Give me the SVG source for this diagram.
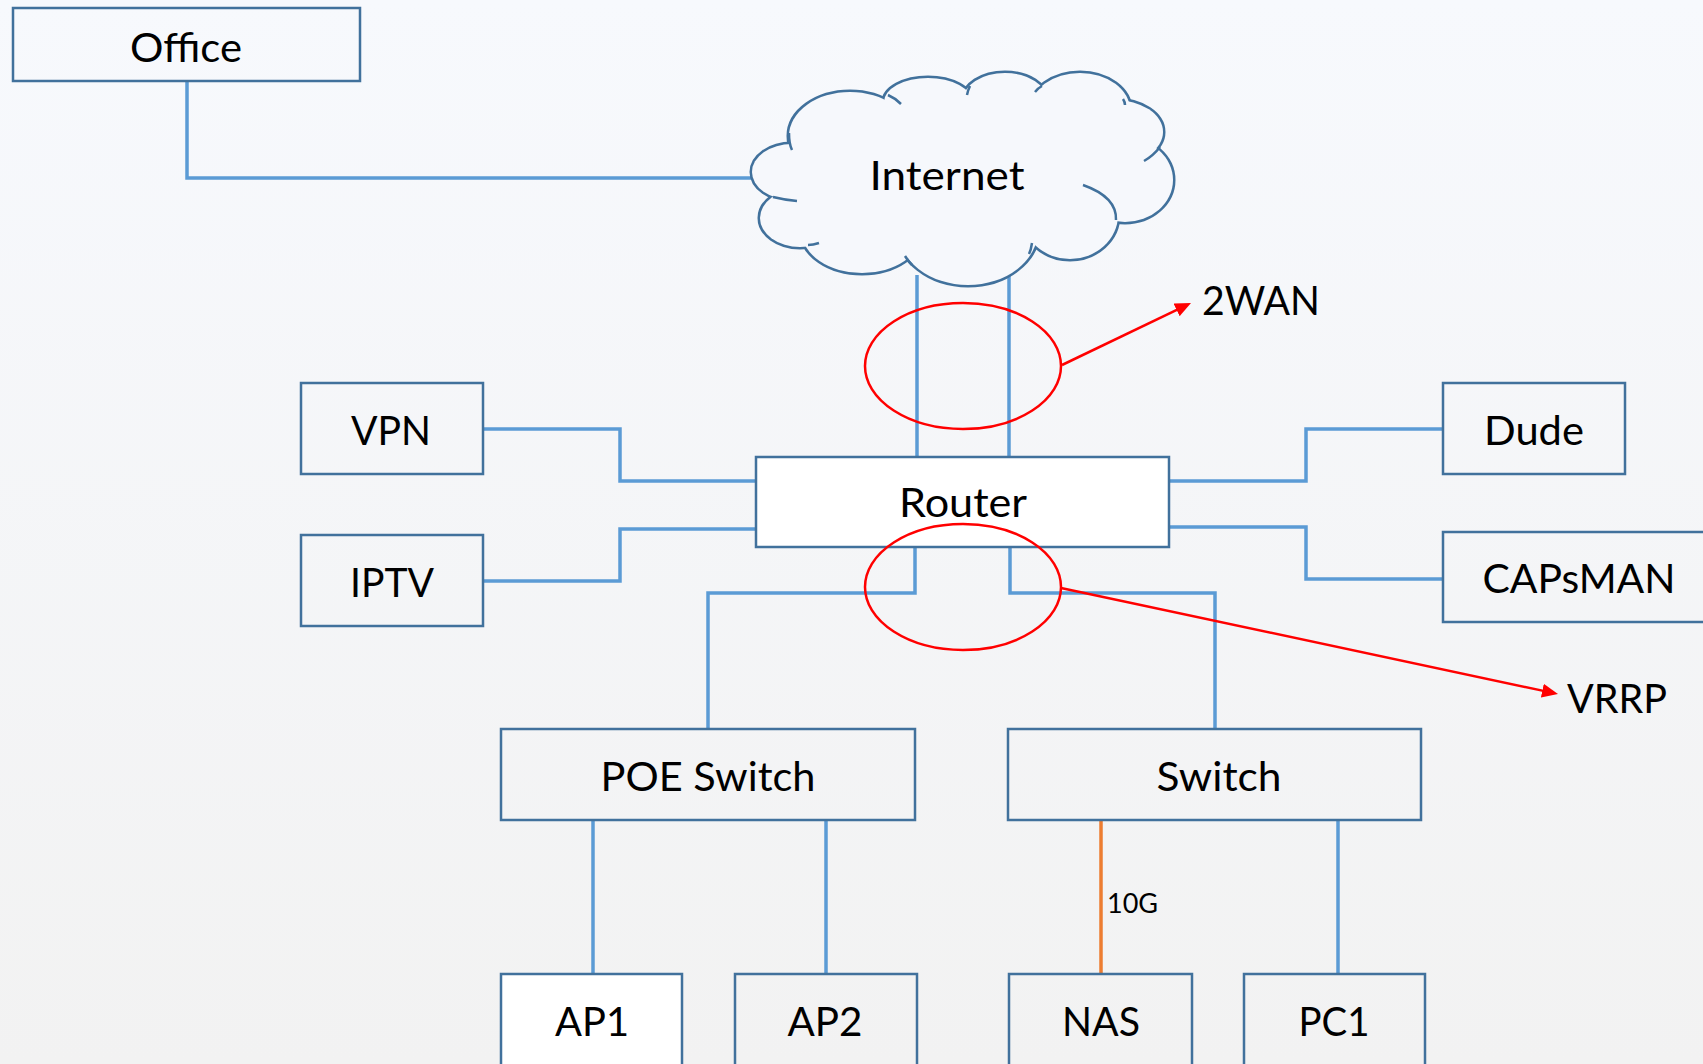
<svg xmlns="http://www.w3.org/2000/svg" width="1703" height="1064" viewBox="0 0 1703 1064">
<style>
.box{fill:none;stroke:#41719C;stroke-width:2.5}
.wbox{fill:#FFFFFF;stroke:#41719C;stroke-width:2.5}
.lbl{font-family:Lato,"Liberation Sans",sans-serif;font-size:41px;fill:#000;text-anchor:middle}
.lbls{font-family:Lato,"Liberation Sans",sans-serif;font-size:41px;fill:#000}
.conn{fill:none;stroke:#5B9BD5;stroke-width:3.5}
.red{fill:none;stroke:#FF0000;stroke-width:2.5}
.cs{fill:none;stroke:#41719C;stroke-width:5}
.cf{fill:#F6F8FC;stroke:none}
.curl{fill:none;stroke:#41719C;stroke-width:2.5}
</style>
<defs>
<linearGradient id="bg" x1="0" y1="0" x2="0" y2="1">
<stop offset="0" stop-color="#F7F9FD"/>
<stop offset="1" stop-color="#F2F2F2"/>
</linearGradient>
<marker id="ah" markerUnits="userSpaceOnUse" markerWidth="16" markerHeight="14" viewBox="0 0 16 14" refX="6" refY="7" orient="auto">
<path d="M0,0 L16,7 L0,14 z" fill="#FF0000"/>
</marker>
</defs>
<rect x="0" y="0" width="1703" height="1064" fill="url(#bg)"/>

<g id="connectors">
<polyline class="conn" points="187,81 187,178 752,178"/>
<line class="conn" x1="917" y1="275" x2="917" y2="457"/>
<line class="conn" x1="1009" y1="275" x2="1009" y2="457"/>
<polyline class="conn" points="483,429 620,429 620,481 756,481"/>
<polyline class="conn" points="483,581 620,581 620,529 756,529"/>
<polyline class="conn" points="1169,481 1306,481 1306,429 1443,429"/>
<polyline class="conn" points="1169,527 1306,527 1306,579 1443,579"/>
<polyline class="conn" points="915,547 915,593 708,593 708,729"/>
<polyline class="conn" points="1010,547 1010,593 1215,593 1215,729"/>
<line class="conn" x1="593" y1="820" x2="593" y2="974"/>
<line class="conn" x1="826" y1="820" x2="826" y2="974"/>
<line x1="1101" y1="820" x2="1101" y2="974" stroke="#ED7D31" stroke-width="3.5"/>
<line class="conn" x1="1338" y1="820" x2="1338" y2="974"/>
</g>

<g id="internet">
<g>
<ellipse class="cs" cx="850" cy="136" rx="61" ry="44"/>
<ellipse class="cs" cx="928" cy="102" rx="44" ry="24"/>
<ellipse class="cs" cx="1005" cy="100" rx="42" ry="27"/>
<ellipse class="cs" cx="1080" cy="110" rx="50" ry="37"/>
<ellipse class="cs" cx="1115" cy="132" rx="48" ry="32"/>
<ellipse class="cs" cx="1125" cy="180" rx="48" ry="42"/>
<ellipse class="cs" cx="1070" cy="215" rx="48" ry="44"/>
<ellipse class="cs" cx="968" cy="230" rx="70" ry="55"/>
<ellipse class="cs" cx="862" cy="232" rx="60" ry="41"/>
<ellipse class="cs" cx="800" cy="218" rx="40" ry="29"/>
<ellipse class="cs" cx="792" cy="172" rx="40" ry="28"/>
</g>
<g>
<ellipse class="cf" cx="850" cy="136" rx="61" ry="44"/>
<ellipse class="cf" cx="928" cy="102" rx="44" ry="24"/>
<ellipse class="cf" cx="1005" cy="100" rx="42" ry="27"/>
<ellipse class="cf" cx="1080" cy="110" rx="50" ry="37"/>
<ellipse class="cf" cx="1115" cy="132" rx="48" ry="32"/>
<ellipse class="cf" cx="1125" cy="180" rx="48" ry="42"/>
<ellipse class="cf" cx="1070" cy="215" rx="48" ry="44"/>
<ellipse class="cf" cx="968" cy="230" rx="70" ry="55"/>
<ellipse class="cf" cx="862" cy="232" rx="60" ry="41"/>
<ellipse class="cf" cx="800" cy="218" rx="40" ry="29"/>
<ellipse class="cf" cx="792" cy="172" rx="40" ry="28"/>
<ellipse class="cf" cx="960" cy="175" rx="170" ry="75"/>
</g>
<path class="curl" d="M789,133 Q789,144 792,150"/>
<path class="curl" d="M773,197 Q785,200 797,201"/>
<path class="curl" d="M808,245 Q813,245 819,243"/>
<path class="curl" d="M905,256 Q908,261 912,265"/>
<path class="curl" d="M1032,243 Q1031,250 1029,254"/>
<path class="curl" d="M1083,185 Q1117,197 1116,220"/>
<path class="curl" d="M1144,161 Q1153,156 1160,147"/>
<path class="curl" d="M1123,99 Q1125,102 1125,105"/>
<path class="curl" d="M1035,92 Q1038,88 1042,86"/>
<path class="curl" d="M967,95 Q968,90 970,86"/>
<path class="curl" d="M888,95 Q895,98 901,104"/>
<text class="lbl" x="947" y="190" textLength="155" lengthAdjust="spacingAndGlyphs">Internet</text>
</g>

<g id="office"><rect class="box" x="13" y="8" width="347" height="73"/><text class="lbl" x="186" y="62" textLength="112" lengthAdjust="spacingAndGlyphs">Office</text></g>
<g id="router"><rect class="wbox" x="756" y="457" width="413" height="90"/><text class="lbl" x="963" y="517" textLength="128" lengthAdjust="spacingAndGlyphs">Router</text></g>
<g id="vpn"><rect class="box" x="301" y="383" width="182" height="91"/><text class="lbl" x="391" y="445" textLength="80" lengthAdjust="spacingAndGlyphs">VPN</text></g>
<g id="iptv"><rect class="box" x="301" y="535" width="182" height="91"/><text class="lbl" x="392" y="597" textLength="84" lengthAdjust="spacingAndGlyphs">IPTV</text></g>
<g id="dude"><rect class="box" x="1443" y="383" width="182" height="91"/><text class="lbl" x="1534" y="445" textLength="100" lengthAdjust="spacingAndGlyphs">Dude</text></g>
<g id="capsman"><rect class="box" x="1443" y="532" width="290" height="90"/><text class="lbl" x="1579" y="593" textLength="193" lengthAdjust="spacingAndGlyphs">CAPsMAN</text></g>
<g id="poe-switch"><rect class="box" x="501" y="729" width="414" height="91"/><text class="lbl" x="708" y="791" textLength="215" lengthAdjust="spacingAndGlyphs">POE Switch</text></g>
<g id="switch"><rect class="box" x="1008" y="729" width="413" height="91"/><text class="lbl" x="1219" y="791" textLength="125" lengthAdjust="spacingAndGlyphs">Switch</text></g>
<g id="ap1"><rect class="wbox" x="501" y="974" width="181" height="110"/><text class="lbl" x="592" y="1036" textLength="74" lengthAdjust="spacingAndGlyphs">AP1</text></g>
<g id="ap2"><rect class="box" x="735" y="974" width="182" height="110"/><text class="lbl" x="825" y="1036" textLength="75" lengthAdjust="spacingAndGlyphs">AP2</text></g>
<g id="nas"><rect class="box" x="1009" y="974" width="183" height="110"/><text class="lbl" x="1101" y="1036" textLength="78" lengthAdjust="spacingAndGlyphs">NAS</text></g>
<g id="pc1"><rect class="box" x="1244" y="974" width="181" height="110"/><text class="lbl" x="1334" y="1036" textLength="71" lengthAdjust="spacingAndGlyphs">PC1</text></g>

<g id="annotations">
<ellipse class="red" cx="963" cy="366" rx="98" ry="63"/>
<line class="red" x1="1062" y1="365" x2="1182" y2="307.3" marker-end="url(#ah)"/>
<text class="lbls" x="1202" y="315" textLength="118" lengthAdjust="spacingAndGlyphs">2WAN</text>
<ellipse class="red" cx="963" cy="587" rx="98" ry="63"/>
<line class="red" x1="1061" y1="588" x2="1548.2" y2="691.9" marker-end="url(#ah)"/>
<text class="lbls" x="1567" y="713" textLength="100" lengthAdjust="spacingAndGlyphs">VRRP</text>
<text font-family="Lato,'Liberation Sans',sans-serif" font-size="27" fill="#000" x="1107" y="913">10G</text>
</g>
</svg>
